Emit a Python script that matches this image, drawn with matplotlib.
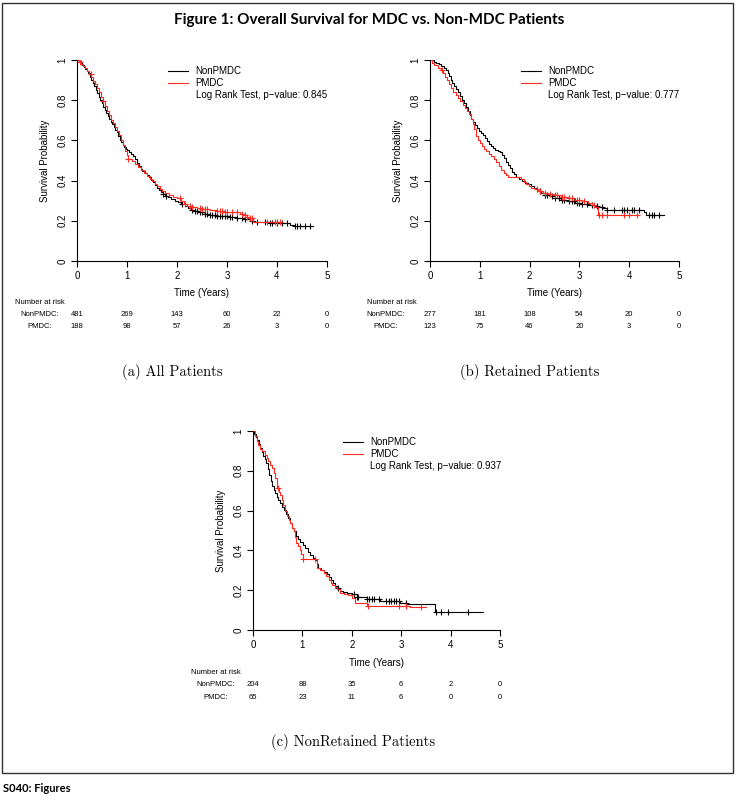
import numpy as np
import matplotlib
matplotlib.use("Agg")
import matplotlib.pyplot as plt
from matplotlib.patches import Rectangle

# ---- data (Kaplan-Meier step points) ----

# (a) All Patients
a_non_t = [0, 0.04, 0.07, 0.10, 0.13, 0.16, 0.19, 0.22, 0.25, 0.28, 0.31, 0.34, 0.37, 0.40, 0.43,
           0.46, 0.49, 0.52, 0.55, 0.58, 0.61, 0.64, 0.67, 0.70, 0.73, 0.76, 0.79, 0.82, 0.85,
           0.88, 0.91, 0.94, 0.97, 1.00, 1.03, 1.07, 1.11, 1.15, 1.19, 1.23, 1.27, 1.30, 1.35,
           1.40, 1.44, 1.48, 1.52, 1.56, 1.60, 1.64, 1.68, 1.72, 1.76, 1.82, 1.88, 1.95, 2.02,
           2.08, 2.15, 2.22, 2.28, 2.35, 2.45, 2.55, 2.65, 2.77, 2.90, 3.04, 3.20, 3.31, 3.45,
           3.55, 3.85, 4.26, 4.33, 4.72]
a_non_s = [1.0, 0.995, 0.985, 0.975, 0.965, 0.955, 0.945, 0.935, 0.915, 0.90, 0.885, 0.87, 0.85,
           0.835, 0.815, 0.80, 0.785, 0.765, 0.75, 0.735, 0.72, 0.705, 0.69, 0.68, 0.665, 0.652,
           0.64, 0.62, 0.60, 0.59, 0.575, 0.565, 0.555, 0.55, 0.54, 0.53, 0.52, 0.505, 0.49,
           0.475, 0.46, 0.45, 0.44, 0.43, 0.42, 0.405, 0.395, 0.38, 0.365, 0.355, 0.345, 0.335,
           0.325, 0.318, 0.31, 0.30, 0.292, 0.285, 0.275, 0.265, 0.255, 0.248, 0.242, 0.236,
           0.23, 0.225, 0.222, 0.218, 0.212, 0.207, 0.20, 0.195, 0.19, 0.18, 0.176, 0.176]
a_non_cens = [1.72, 1.78, 2.1, 2.3, 2.35, 2.4, 2.45, 2.5, 2.55, 2.6, 2.65, 2.7, 2.75, 2.8, 2.85,
              2.9, 2.95, 3.0, 3.05, 3.1, 3.2, 3.3, 3.35, 3.5, 3.6, 3.75, 3.85, 3.9, 4.0, 4.1,
              4.2, 4.35, 4.4, 4.45, 4.55, 4.65]
a_pm_t = [0, 0.04, 0.08, 0.12, 0.16, 0.20, 0.24, 0.28, 0.32, 0.36, 0.40, 0.44, 0.48, 0.52, 0.56,
          0.60, 0.64, 0.68, 0.72, 0.76, 0.80, 0.84, 0.88, 0.92, 0.96, 0.99, 1.01, 1.10, 1.16,
          1.22, 1.28, 1.34, 1.40, 1.45, 1.50, 1.55, 1.60, 1.65, 1.70, 1.76, 1.83, 1.92, 2.00,
          2.07, 2.13, 2.20, 2.27, 2.40, 2.50, 2.65, 2.77, 2.95, 3.11, 3.25, 3.31, 3.40, 3.45,
          3.52, 4.05]
a_pm_s = [1.0, 0.99, 0.98, 0.97, 0.96, 0.945, 0.93, 0.915, 0.895, 0.88, 0.86, 0.84, 0.815, 0.795,
          0.77, 0.745, 0.725, 0.70, 0.685, 0.665, 0.645, 0.625, 0.60, 0.575, 0.545, 0.525, 0.507,
          0.497, 0.485, 0.47, 0.455, 0.44, 0.425, 0.41, 0.40, 0.385, 0.375, 0.36, 0.35, 0.34,
          0.33, 0.32, 0.313, 0.30, 0.285, 0.275, 0.268, 0.262, 0.258, 0.252, 0.25, 0.246, 0.243,
          0.235, 0.228, 0.22, 0.215, 0.195, 0.195]
a_pm_cens = [0.05, 0.27, 0.52, 1.02, 2.05, 2.15, 2.25, 2.3, 2.45, 2.5, 2.55, 2.6, 2.8, 2.85, 2.9,
             2.95, 3.0, 3.1, 3.2, 3.3, 3.35, 3.4, 3.45, 3.5, 3.8, 3.95, 4.0, 4.05]

# (b) Retained Patients
b_non_t = [0, 0.09, 0.13, 0.18, 0.23, 0.28, 0.33, 0.36, 0.39, 0.42, 0.45, 0.48, 0.52, 0.56, 0.60,
           0.64, 0.68, 0.72, 0.76, 0.80, 0.83, 0.86, 0.90, 0.94, 0.98, 1.02, 1.06, 1.10, 1.14,
           1.18, 1.22, 1.26, 1.31, 1.36, 1.41, 1.45, 1.49, 1.53, 1.57, 1.61, 1.65, 1.69, 1.73,
           1.78, 1.84, 1.90, 1.96, 2.02, 2.08, 2.15, 2.22, 2.30, 2.40, 2.50, 2.64, 2.78, 2.91,
           3.05, 3.18, 3.30, 3.38, 3.47, 3.55, 4.29, 4.33, 4.70]
b_non_s = [1.0, 0.99, 0.985, 0.978, 0.97, 0.96, 0.95, 0.935, 0.92, 0.90, 0.885, 0.87, 0.855, 0.84,
           0.82, 0.80, 0.785, 0.765, 0.748, 0.728, 0.705, 0.69, 0.675, 0.66, 0.648, 0.638, 0.627,
           0.612, 0.595, 0.582, 0.57, 0.56, 0.552, 0.545, 0.54, 0.528, 0.513, 0.495, 0.478, 0.465,
           0.445, 0.432, 0.42, 0.41, 0.40, 0.39, 0.382, 0.375, 0.362, 0.35, 0.34, 0.33, 0.322,
           0.315, 0.305, 0.298, 0.29, 0.285, 0.28, 0.275, 0.27, 0.262, 0.255, 0.245, 0.23, 0.23]
b_non_cens = [2.2, 2.3, 2.35, 2.45, 2.5, 2.6, 2.65, 2.7, 2.8, 2.85, 2.9, 2.95, 3.0, 3.05, 3.15,
              3.25, 3.35, 3.45, 3.55, 3.7, 3.85, 3.9, 3.95, 4.05, 4.1, 4.2, 4.4, 4.45, 4.5, 4.6]
b_pm_t = [0, 0.04, 0.09, 0.16, 0.22, 0.27, 0.31, 0.35, 0.39, 0.43, 0.47, 0.52, 0.56, 0.61, 0.66,
          0.70, 0.74, 0.78, 0.82, 0.86, 0.89, 0.93, 0.97, 1.01, 1.05, 1.09, 1.13, 1.18, 1.23,
          1.28, 1.33, 1.38, 1.43, 1.48, 1.52, 1.57, 1.78, 1.83, 1.88, 1.93, 1.98, 2.03, 2.10,
          2.17, 2.27, 2.37, 2.50, 2.64, 2.78, 2.91, 3.05, 3.18, 3.25, 3.32, 3.38, 4.19]
b_pm_s = [1.0, 0.985, 0.975, 0.96, 0.95, 0.935, 0.915, 0.90, 0.88, 0.86, 0.84, 0.825, 0.81, 0.795,
          0.776, 0.76, 0.745, 0.73, 0.705, 0.68, 0.655, 0.62, 0.60, 0.585, 0.57, 0.555, 0.545,
          0.532, 0.52, 0.505, 0.494, 0.475, 0.455, 0.44, 0.428, 0.42, 0.42, 0.41, 0.395, 0.385,
          0.375, 0.365, 0.356, 0.35, 0.34, 0.333, 0.326, 0.32, 0.312, 0.305, 0.297, 0.29, 0.28,
          0.27, 0.23, 0.23]
b_pm_cens = [0.25, 2.15, 2.2, 2.3, 2.4, 2.5, 2.55, 2.65, 2.7, 2.8, 2.85, 2.95, 3.0, 3.1, 3.3, 3.4,
             3.45, 3.55, 3.9, 4.0, 4.15]

# (c) NonRetained Patients
c_non_t = [0, 0.03, 0.06, 0.09, 0.12, 0.15, 0.18, 0.21, 0.24, 0.27, 0.30, 0.33, 0.36, 0.39, 0.42,
           0.45, 0.48, 0.51, 0.55, 0.59, 0.63, 0.67, 0.71, 0.75, 0.79, 0.83, 0.87, 0.91, 0.96,
           1.01, 1.06, 1.11, 1.16, 1.21, 1.26, 1.29, 1.32, 1.38, 1.44, 1.50, 1.54, 1.57, 1.61,
           1.65, 1.70, 1.76, 1.83, 1.90, 2.00, 2.10, 2.30, 2.57, 2.98, 3.11, 3.68, 4.66]
c_non_s = [1.0, 0.985, 0.97, 0.955, 0.935, 0.915, 0.895, 0.875, 0.86, 0.84, 0.81, 0.78, 0.75, 0.725,
           0.705, 0.69, 0.67, 0.655, 0.64, 0.62, 0.605, 0.585, 0.565, 0.54, 0.515, 0.495, 0.47,
           0.455, 0.44, 0.425, 0.41, 0.39, 0.375, 0.36, 0.35, 0.33, 0.312, 0.302, 0.292, 0.28,
           0.265, 0.25, 0.235, 0.222, 0.21, 0.197, 0.19, 0.187, 0.18, 0.167, 0.155, 0.145, 0.137,
           0.13, 0.09, 0.09]
c_non_cens = [1.73, 2.05, 2.1, 2.12, 2.3, 2.35, 2.4, 2.45, 2.55, 2.7, 2.75, 2.8, 2.85, 2.9, 2.95,
              3.1, 3.7, 3.8, 3.95, 4.35]
c_pm_t = [0, 0.04, 0.08, 0.11, 0.15, 0.18, 0.24, 0.28, 0.31, 0.35, 0.38, 0.42, 0.45, 0.48, 0.52,
          0.55, 0.58, 0.61, 0.65, 0.68, 0.72, 0.75, 0.79, 0.82, 0.85, 0.88, 0.92, 0.95, 0.98,
          1.01, 1.26, 1.29, 1.36, 1.43, 1.48, 1.53, 1.57, 1.60, 1.65, 1.70, 1.77, 1.85, 1.93,
          2.00, 2.07, 2.30, 3.18, 3.50]
c_pm_s = [1.0, 0.975, 0.95, 0.93, 0.91, 0.898, 0.881, 0.865, 0.848, 0.83, 0.814, 0.79, 0.765,
          0.715, 0.695, 0.68, 0.655, 0.63, 0.60, 0.575, 0.555, 0.538, 0.515, 0.496, 0.465, 0.437,
          0.42, 0.404, 0.38, 0.355, 0.355, 0.312, 0.30, 0.285, 0.27, 0.25, 0.235, 0.225, 0.215,
          0.205, 0.187, 0.18, 0.175, 0.16, 0.135, 0.12, 0.115, 0.115]
c_pm_cens = [0.5, 1.02, 1.25, 2.33, 2.95, 3.1, 3.4]

# number at risk tables
risk_times = [0, 1, 2, 3, 4, 5]
a_non_risk = [481, 269, 143, 60, 22, 0]
a_pm_risk = [188, 98, 57, 26, 3, 0]
b_non_risk = [277, 181, 108, 54, 20, 0]
b_pm_risk = [123, 75, 46, 20, 3, 0]
c_non_risk = [204, 88, 35, 6, 2, 0]
c_pm_risk = [65, 23, 11, 6, 0, 0]

p_values = ["0.845", "0.777", "0.937"]
captions = ["(a) All Patients", "(b) Retained Patients", "(c) NonRetained Patients"]

SANS = "Liberation Sans"
RED = "#ff2a1f"


def px_axes(fig, left, top, right, bottom):
    """Axes placed by pixel box (origin top-left)"""
    W, H = 738.0, 800.0
    return fig.add_axes([left / W, 1 - bottom / H, (right - left) / W, (bottom - top) / H])


def km_panel(ax, non_t, non_s, non_c, pm_t, pm_s, pm_c, non_risk, pm_risk, pval, rows):
    for t, s, cens, col in [(non_t, non_s, non_c, "black"), (pm_t, pm_s, pm_c, RED)]:
        t = np.asarray(t)
        s = np.asarray(s)
        ax.step(t, s, where="post", color=col, lw=0.8)
        idx = np.searchsorted(t, cens, side="right") - 1
        ax.plot(cens, s[idx], ls="none", marker="+", color=col, ms=5, mew=0.8)

    ax.set_xlim(0, 5)
    ax.set_ylim(0, 1)
    ax.set_xticks(range(6))
    ax.set_xticklabels([str(i) for i in range(6)])
    ax.set_yticks([0, 0.2, 0.4, 0.6, 0.8, 1])
    ax.set_yticklabels(["0", "0.2", "0.4", "0.6", "0.8", "1"], rotation=90, va="center")
    for sp in ["top", "right"]:
        ax.spines[sp].set_visible(False)
    for sp in ["left", "bottom"]:
        ax.spines[sp].set_linewidth(0.8)
    ax.tick_params(direction="out", length=4, width=0.8, labelsize=7, pad=3)
    for lab in ax.get_xticklabels() + ax.get_yticklabels():
        lab.set_family(SANS)
    ax.set_ylabel("Survival Probability", fontsize=7, family=SANS, labelpad=5)

    # legend drawn R-style
    for y, col, name in [(0.945, "black", "NonPMDC"), (0.885, RED, "PMDC")]:
        ax.plot([1.82, 2.22], [y, y], color=col, lw=0.8, clip_on=False)
        ax.text(2.37, y, name, fontsize=7, family=SANS, va="center")
    ax.text(2.37, 0.825, "Log Rank Test, p\u2212value: " + pval, fontsize=7, family=SANS,
            va="center")

    # x label and number at risk table
    tr = ax.get_xaxis_transform()
    y_lab, y_head, y_non, y_pm, x_head, x_row = rows
    ax.text(2.5, y_lab, "Time (Years)", fontsize=7, family=SANS, ha="center", va="center",
            transform=tr)
    ax.text(x_head, y_head, "Number at risk", fontsize=5.5, family=SANS, va="center",
            transform=tr)
    ax.text(x_row, y_non, "NonPMDC:", fontsize=5.5, family=SANS, ha="center", va="center",
            transform=tr)
    ax.text(x_row, y_pm, "PMDC:", fontsize=5.5, family=SANS, ha="center", va="center",
            transform=tr)
    for x, n1, n2 in zip(risk_times, non_risk, pm_risk):
        ax.text(x, y_non, str(n1), fontsize=5.5, family=SANS, ha="center", va="center",
                transform=tr)
        ax.text(x, y_pm, str(n2), fontsize=5.5, family=SANS, ha="center", va="center",
                transform=tr)


fig = plt.figure(figsize=(7.38, 8.0), dpi=100)

# outer frame
fig.patches.append(Rectangle((2 / 738, 1 - 773 / 800), 731 / 738, 770 / 800,
                             transform=fig.transFigure, fill=False, lw=1.0, ec="#333333"))

fig.text(0.5, 1 - 20 / 800, "Figure 1: Overall Survival for MDC vs. Non-MDC Patients",
         ha="center", va="center", fontsize=11, fontweight="bold", family="Lato")

ax_a = px_axes(fig, 77, 60, 327, 261)
km_panel(ax_a, a_non_t, a_non_s, a_non_cens, a_pm_t, a_pm_s, a_pm_cens,
         a_non_risk, a_pm_risk, p_values[0],
         (-0.16, -0.204, -0.264, -0.328, -1.24, -0.74))

ax_b = px_axes(fig, 430, 60, 679, 261)
km_panel(ax_b, b_non_t, b_non_s, b_non_cens, b_pm_t, b_pm_s, b_pm_cens,
         b_non_risk, b_pm_risk, p_values[1],
         (-0.16, -0.204, -0.264, -0.328, -1.27, -0.88))

ax_c = px_axes(fig, 253, 431, 500, 630)
km_panel(ax_c, c_non_t, c_non_s, c_non_cens, c_pm_t, c_pm_s, c_pm_cens,
         c_non_risk, c_pm_risk, p_values[2],
         (-0.166, -0.216, -0.276, -0.337, -1.26, -0.75))

# sub captions
for x, y, cap in [(172, 372, captions[0]), (530, 372, captions[1]), (353, 742, captions[2])]:
    fig.text(x / 738, 1 - y / 800, cap, ha="center", va="center", fontsize=10.5, family="cmr10")

fig.text(3 / 738, 1 - 789 / 800, "S040: Figures", ha="left", va="center", fontsize=8,
         fontweight="bold", family="Lato")

fig.savefig("out.png", dpi=100)
